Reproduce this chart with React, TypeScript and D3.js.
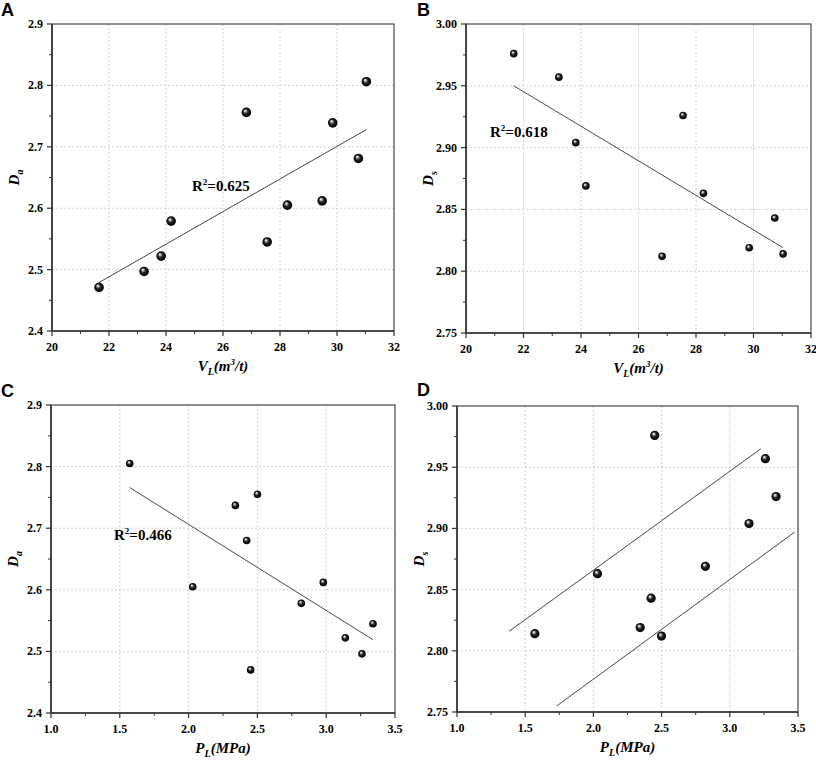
import React from 'react'
import * as d3 from 'd3'

// sample values
const vlA = [21.65, 23.23, 23.83, 24.18, 26.82, 27.55, 28.26, 29.48, 29.85, 30.75, 31.03]
const daA = [2.471, 2.497, 2.522, 2.579, 2.756, 2.545, 2.605, 2.612, 2.739, 2.681, 2.806]

const vlB = [21.66, 23.23, 23.82, 24.17, 26.82, 27.55, 28.26, 29.85, 30.74, 31.03]
const dsB = [2.976, 2.957, 2.904, 2.869, 2.812, 2.926, 2.863, 2.819, 2.843, 2.814]

const plC = [1.572, 2.03, 2.34, 2.422, 2.451, 2.5, 2.819, 2.979, 3.139, 3.26, 3.34]
const daC = [2.805, 2.605, 2.737, 2.68, 2.47, 2.755, 2.578, 2.612, 2.522, 2.496, 2.545]

const plD = [1.571, 2.03, 2.343, 2.423, 2.45, 2.499, 2.821, 3.141, 3.261, 3.339]
const dsD = [2.814, 2.863, 2.819, 2.843, 2.976, 2.812, 2.869, 2.904, 2.957, 2.926]

// fitted lines (end points)
const fitA = [[21.65, 2.479], [31.03, 2.728]]
const fitB = [[21.66, 2.95], [31.03, 2.819]]
const fitC = [[1.572, 2.766], [3.34, 2.519]]
const fitDUpper = [[1.383, 2.816], [3.227, 2.965]]
const fitDLower = [[1.732, 2.755], [3.476, 2.897]]

const vlTicks = [20, 22, 24, 26, 28, 30, 32]
const plTicks = [1.0, 1.5, 2.0, 2.5, 3.0, 3.5]
const daTicks = [2.4, 2.5, 2.6, 2.7, 2.8, 2.9]
const dsTicks = [2.75, 2.8, 2.85, 2.9, 2.95, 3.0]

const serif = '"Liberation Serif", "Times New Roman", serif'
const sans = '"Liberation Sans", Arial, sans-serif'

type PanelProps = {
  letter: string
  letterX: number
  letterY: number
  left: number
  right: number
  top: number
  bottom: number
  xs: number[]
  ys: number[]
  xTicks: number[]
  yTicks: number[]
  xFmt: string
  yFmt: string
  fits: number[][][]
  r: number
  r2?: string
  r2X?: number
  r2Y?: number
  xTitle: 'VL' | 'PL'
  yTitle: 'a' | 's'
}

function Panel(p: PanelProps) {
  const x = d3.scaleLinear().domain([p.xTicks[0], p.xTicks[p.xTicks.length - 1]]).range([p.left, p.right])
  const y = d3.scaleLinear().domain([p.yTicks[0], p.yTicks[p.yTicks.length - 1]]).range([p.bottom, p.top])
  const fx = d3.format(p.xFmt)
  const fy = d3.format(p.yFmt)
  const line = d3.line<number[]>().x(d => x(d[0])).y(d => y(d[1]))

  const xMinor = p.xTicks.slice(1).map((t, i) => (t + p.xTicks[i]) / 2)
  const yMinor = p.yTicks.slice(1).map((t, i) => (t + p.yTicks[i]) / 2)
  const midX = (p.left + p.right) / 2
  const midY = (p.top + p.bottom) / 2

  return (
    <g>
      <text x={p.letterX} y={p.letterY} fontFamily={sans} fontWeight="bold" fontSize={18}>{p.letter}</text>

      {/* grid */}
      {p.xTicks.slice(1, -1).map(t => (
        <line key={'gx' + t} x1={x(t)} x2={x(t)} y1={p.top} y2={p.bottom} stroke="#c8c8c8" strokeWidth={0.8} strokeDasharray="2,2" />
      ))}
      {p.yTicks.slice(1, -1).map(t => (
        <line key={'gy' + t} x1={p.left} x2={p.right} y1={y(t)} y2={y(t)} stroke="#c8c8c8" strokeWidth={0.8} strokeDasharray="2,2" />
      ))}

      {/* frame */}
      <rect x={p.left} y={p.top} width={p.right - p.left} height={p.bottom - p.top} fill="none" stroke="#222" strokeWidth={1} />
      <line x1={p.left} x2={p.left} y1={p.top} y2={p.bottom} stroke="#333" strokeWidth={1.6} />
      <line x1={p.left} x2={p.right} y1={p.bottom} y2={p.bottom} stroke="#333" strokeWidth={1.6} />

      {/* ticks */}
      {p.xTicks.map(t => (
        <g key={'tx' + t}>
          <line x1={x(t)} x2={x(t)} y1={p.bottom} y2={p.bottom + 5} stroke="#333" strokeWidth={1.2} />
          <text x={x(t)} y={p.bottom + 20} textAnchor="middle" fontFamily={serif} fontWeight="bold" fontSize={12}>{fx(t)}</text>
        </g>
      ))}
      {xMinor.map(t => (
        <line key={'mx' + t} x1={x(t)} x2={x(t)} y1={p.bottom} y2={p.bottom + 3} stroke="#333" strokeWidth={1} />
      ))}
      {p.yTicks.map(t => (
        <g key={'ty' + t}>
          <line x1={p.left - 5} x2={p.left} y1={y(t)} y2={y(t)} stroke="#333" strokeWidth={1.2} />
          <text x={p.left - 9} y={y(t) + 4} textAnchor="end" fontFamily={serif} fontWeight="bold" fontSize={12}>{fy(t)}</text>
        </g>
      ))}
      {yMinor.map(t => (
        <line key={'my' + t} x1={p.left - 3} x2={p.left} y1={y(t)} y2={y(t)} stroke="#333" strokeWidth={1} />
      ))}

      {/* axis titles */}
      <text x={midX} y={p.bottom + 40} textAnchor="middle" fontFamily={serif} fontWeight="bold" fontStyle="italic" fontSize={15}>
        {p.xTitle === 'VL' ? (
          <>V<tspan fontSize={10} dy={4}>L</tspan><tspan dy={-4}>(m</tspan><tspan fontSize={9} dy={-6}>3</tspan><tspan dy={6}>/t)</tspan></>
        ) : (
          <>P<tspan fontSize={10} dy={4}>L</tspan><tspan dy={-4}>(MPa)</tspan></>
        )}
      </text>
      <text transform={`translate(${p.left - 33},${midY}) rotate(-90)`} textAnchor="middle" fontFamily={serif} fontWeight="bold" fontStyle="italic" fontSize={15}>
        D<tspan fontSize={10} dy={4}>{p.yTitle}</tspan>
      </text>

      {/* fits */}
      {p.fits.map((f, i) => (
        <path key={'f' + i} d={line(f) || ''} fill="none" stroke="#333" strokeWidth={0.9} />
      ))}

      {/* points */}
      {p.xs.map((v, i) => (
        <circle key={'p' + i} cx={x(v)} cy={y(p.ys[i])} r={p.r} fill="url(#sphere)" />
      ))}

      {p.r2 && (
        <text x={p.r2X} y={p.r2Y} fontFamily={serif} fontWeight="bold" fontSize={15}>
          R<tspan fontSize={9} dy={-6}>2</tspan><tspan dy={6}>{p.r2}</tspan>
        </text>
      )}
    </g>
  )
}

export default function App() {
  return (
    <svg width={816} height={760} style={{ position: 'absolute', left: 0, top: 0, background: '#fff' }}>
      <defs>
        <radialGradient id="sphere" cx="0.5" cy="0.5" r="0.5" fx="0.35" fy="0.3">
          <stop offset="0" stopColor="#ffffff" />
          <stop offset="0.2" stopColor="#b8b8b8" />
          <stop offset="0.5" stopColor="#222" />
          <stop offset="1" stopColor="#000" />
        </radialGradient>
      </defs>
      <Panel letter="A" letterX={1} letterY={16} left={52} right={394} top={24} bottom={331}
        xs={vlA} ys={daA} xTicks={vlTicks} yTicks={daTicks} xFmt="d" yFmt=".1f"
        fits={[fitA]} r={4.8} r2="=0.625" r2X={192} r2Y={191} xTitle="VL" yTitle="a" />
      <Panel letter="B" letterX={417} letterY={16} left={466} right={811} top={24} bottom={333}
        xs={vlB} ys={dsB} xTicks={vlTicks} yTicks={dsTicks} xFmt="d" yFmt=".2f"
        fits={[fitB]} r={3.8} r2="=0.618" r2X={490} r2Y={137} xTitle="VL" yTitle="s" />
      <Panel letter="C" letterX={1} letterY={397} left={51} right={395} top={405} bottom={713}
        xs={plC} ys={daC} xTicks={plTicks} yTicks={daTicks} xFmt=".1f" yFmt=".1f"
        fits={[fitC]} r={3.8} r2="=0.466" r2X={114} r2Y={540} xTitle="PL" yTitle="a" />
      <Panel letter="D" letterX={417} letterY={396} left={457} right={798} top={406} bottom={712}
        xs={plD} ys={dsD} xTicks={plTicks} yTicks={dsTicks} xFmt=".1f" yFmt=".2f"
        fits={[fitDUpper, fitDLower]} r={4.6} xTitle="PL" yTitle="s" />
    </svg>
  )
}
